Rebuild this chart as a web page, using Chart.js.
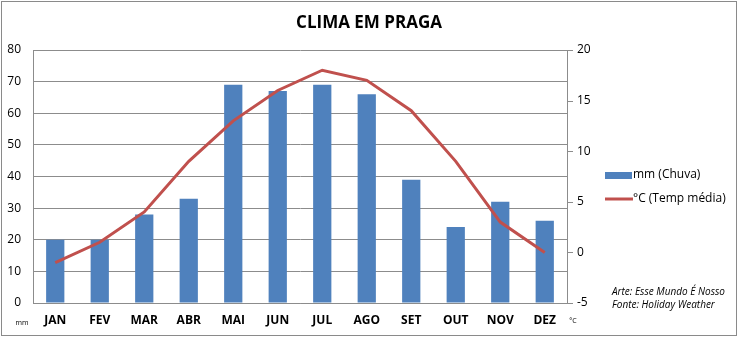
<!DOCTYPE html>
<html>
<head>
<meta charset="utf-8">
<script src="https://cdn.jsdelivr.net/npm/chart.js@4"></script>
<style>
  html, body { margin: 0; padding: 0; background: #fff; }
  #wrap { width: 739px; height: 340px; position: relative; }
</style>
</head>
<body>
<div id="wrap"><canvas id="c" width="739" height="340"></canvas></div>
<script>
// Monthly climate of Prague: rainfall (mm) and mean temperature (°C)
const months = ['JAN', 'FEV', 'MAR', 'ABR', 'MAI', 'JUN', 'JUL', 'AGO', 'SET', 'OUT', 'NOV', 'DEZ'];
const rainMm = [20, 20, 28, 33, 69, 67, 69, 66, 39, 24, 32, 26];
const tempC = [-1, 1, 4, 9, 13, 16, 18, 17, 14, 9, 3, 0];
const rainTicks = [0, 10, 20, 30, 40, 50, 60, 70, 80];
const tempTicks = [-5, 0, 5, 10, 15, 20];

const FONT = "'Open Sans', 'Liberation Sans', sans-serif";
const BLUE = '#4F81BD';
const RED = '#C0504D';
const GRID = '#8c8c8c';

// Frame, title, unit labels, legend and credits
const decorations = {
  id: 'decorations',
  afterDraw(chart) {
    const ctx = chart.ctx;
    const area = chart.chartArea;
    ctx.save();
    ctx.strokeStyle = '#8a8a8a';
    ctx.lineWidth = 1;
    ctx.strokeRect(1.5, 1.5, 735, 334);

    ctx.fillStyle = '#000';
    ctx.textAlign = 'center';
    ctx.textBaseline = 'middle';
    ctx.font = "bold 17px " + FONT;
    ctx.fillText('CLIMA EM PRAGA', 369, 23);

    ctx.font = "7px " + FONT;
    ctx.fillText('mm', 22, 323);
    ctx.fillText('°C', 573, 321);

    // legend
    const lx = 605;
    ctx.fillStyle = BLUE;
    ctx.fillRect(lx, 172, 27, 7);
    ctx.strokeStyle = RED;
    ctx.lineWidth = 3;
    ctx.beginPath();
    ctx.moveTo(lx, 199);
    ctx.lineTo(lx + 28, 199);
    ctx.stroke();
    ctx.fillStyle = '#000';
    ctx.textAlign = 'left';
    ctx.font = "12px " + FONT;
    ctx.fillText('mm (Chuva)', lx + 28, 175);
    ctx.fillText('°C (Temp média)', lx + 28, 199);

    ctx.font = "italic 10px " + FONT;
    ctx.fillText('Arte: Esse Mundo É Nosso', 612, 292);
    ctx.fillText('Fonte: Holiday Weather', 612, 305);

    // right axis line with outward tick marks
    const y2 = chart.scales.y2;
    ctx.strokeStyle = GRID;
    ctx.lineWidth = 1;
    ctx.beginPath();
    ctx.moveTo(Math.round(area.right) + 0.5, area.top);
    ctx.lineTo(Math.round(area.right) + 0.5, area.bottom);
    tempTicks.forEach(v => {
      const y = Math.round(y2.getPixelForValue(v)) + 0.5;
      ctx.moveTo(area.right, y);
      ctx.lineTo(area.right + 6, y);
    });
    ctx.stroke();
    ctx.restore();
  }
};

new Chart(document.getElementById('c'), {
  data: {
    labels: months,
    datasets: [
      {
        type: 'line',
        label: '°C (Temp média)',
        data: tempC,
        yAxisID: 'y2',
        borderColor: RED,
        borderWidth: 3,
        pointRadius: 0,
        tension: 0,
        order: 0
      },
      {
        type: 'bar',
        label: 'mm (Chuva)',
        data: rainMm,
        yAxisID: 'y',
        backgroundColor: BLUE,
        barPercentage: 0.41,
        categoryPercentage: 1,
        order: 1
      }
    ]
  },
  plugins: [decorations],
  options: {
    responsive: false,
    animation: false,
    devicePixelRatio: 1,
    layout: { padding: { top: 50, left: 0, right: 0, bottom: 0 } },
    plugins: {
      legend: { display: false },
      title: { display: false },
      tooltip: { enabled: false }
    },
    scales: {
      x: {
        grid: { display: false, drawTicks: false },
        border: { display: true, color: GRID },
        ticks: { color: '#000', font: { family: FONT, size: 12, weight: 'bold' }, padding: 10, maxRotation: 0 },
        afterFit(s) { s.height = 37; }
      },
      y: {
        position: 'left',
        min: 0, max: 80,
        afterBuildTicks(s) { s.ticks = rainTicks.map(v => ({ value: v })); },
        grid: { color: GRID, drawTicks: false },
        border: { display: true, color: GRID },
        ticks: { color: '#000', font: { family: FONT, size: 12 }, padding: 12 },
        afterFit(s) { s.width = 33; }
      },
      y2: {
        position: 'right',
        min: -5, max: 20,
        afterBuildTicks(s) { s.ticks = tempTicks.map(v => ({ value: v })); },
        grid: { display: false, drawTicks: false },
        border: { display: false },
        ticks: { color: '#000', font: { family: FONT, size: 12 }, padding: 10 },
        afterFit(s) { s.width = 172; }
      }
    }
  }
});
</script>
</body>
</html>
